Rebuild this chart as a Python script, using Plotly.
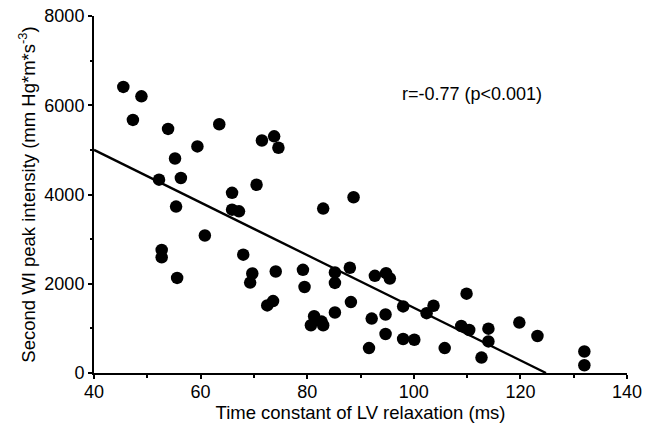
import plotly.graph_objects as go
import numpy as np

tau_ms = [45.5, 48.9, 47.3, 53.9, 63.5, 59.4, 55.2, 52.2, 56.3, 71.5, 73.8, 74.6, 70.5,
          65.9, 65.9, 67.2, 55.4, 52.7, 52.7, 55.6, 60.8, 68.0, 69.7, 69.3, 74.1, 72.5,
          73.6, 83.0, 88.7, 79.2, 79.5, 85.2, 85.2, 88.0, 88.2, 85.2, 81.3, 82.7, 80.7,
          83.0, 92.7, 94.8, 95.5, 92.1, 94.7, 94.7, 91.6, 98.0, 98.0, 100.1, 102.4, 103.7,
          105.8, 109.9, 108.9, 110.4, 112.7, 114.0, 114.0, 119.8, 123.2, 132.0, 132.0]
wi_peak = [6411, 6200, 5672, 5469, 5575, 5078, 4806, 4332, 4369, 5211, 5304, 5047, 4218,
           4038, 3661, 3623, 3729, 2757, 2592, 2131, 3081, 2652, 2230, 2027, 2275, 1514,
           1612, 3684, 3939, 2312, 1928, 2252, 2018, 2358, 1589, 1356, 1273, 1153, 1070,
           1070, 2177, 2237, 2117, 1220, 1311, 874, 558, 1492, 761, 746, 1341, 1506,
           558, 1778, 1054, 964, 346, 994, 708, 1130, 829, 482, 173]

# regression line
fit_intercept_at_40 = 5000.0
fit_zero_x = 124.8
fit_x = np.array([40.0, fit_zero_x])
fit_y = fit_intercept_at_40 * (fit_zero_x - fit_x) / (fit_zero_x - 40.0)

x_ticks = [40, 60, 80, 100, 120, 140]
y_ticks = [0, 2000, 4000, 6000, 8000]

FONT = "Liberation Sans, Arial, sans-serif"

fig = go.Figure()
fig.add_trace(go.Scatter(x=fit_x, y=fit_y, mode="lines",
                         line=dict(color="black", width=2.3), showlegend=False,
                         cliponaxis=False))
fig.add_trace(go.Scatter(x=tau_ms, y=wi_peak, mode="markers",
                         marker=dict(color="black", size=12.5, line=dict(width=0)),
                         showlegend=False, cliponaxis=False))

axis_common = dict(showline=True, linecolor="black", linewidth=2, ticks="outside",
                   ticklen=4, tickwidth=2, tickcolor="black", showgrid=False,
                   zeroline=False, automargin=False,
                   tickfont=dict(family=FONT, size=18, color="black"))

fig.update_xaxes(range=[40, 140], tickvals=x_ticks, ticklabelstandoff=-3,
                 title=dict(text="Time constant of LV relaxation (ms)",
                            font=dict(family=FONT, size=18.5, color="black"), standoff=0),
                 minor=dict(dtick=10, ticks="outside", ticklen=2.5, tickwidth=2, tickcolor="black"),
                 **axis_common)
fig.update_yaxes(range=[0, 8000], tickvals=y_ticks,
                 title=dict(text="Second WI peak intensity (mm Hg*m*s<sup>-3</sup>)",
                            font=dict(family=FONT, size=18.5, color="black"), standoff=4),
                 minor=dict(dtick=1000, ticks="outside", ticklen=2.5, tickwidth=2, tickcolor="black"),
                 **axis_common)

fig.add_annotation(x=0.575, y=0.782, xref="paper", yref="paper", xanchor="left",
                   yanchor="middle", text="r=-0.77 (p<0.001)", showarrow=False,
                   font=dict(family=FONT, size=18, color="black"))

fig.update_layout(width=650, height=427, margin=dict(l=94, r=23, t=16, b=54),
                  plot_bgcolor="white", paper_bgcolor="white")

fig.write_html("out.html", config={"displayModeBar": False},
               post_script="document.body.style.margin='0px';")
